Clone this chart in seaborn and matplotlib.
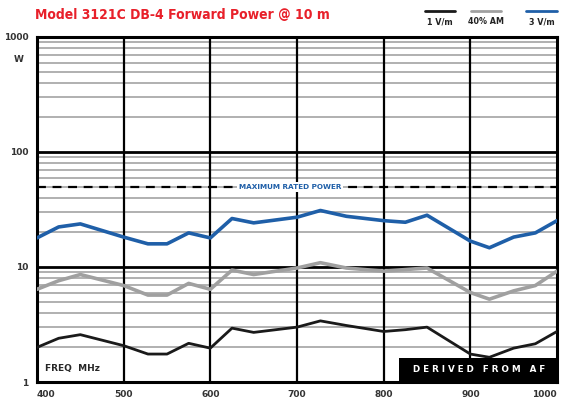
import numpy as np
import pandas as pd
import seaborn as sns
import matplotlib.pyplot as plt
from matplotlib.patches import Rectangle

# data (freq in MHz, forward power in W)
freq = [400, 425, 450, 500, 528, 550, 575, 600, 625, 650, 700,
        727, 757, 800, 825, 850, 900, 922, 950, 975, 1000]
power_1vm = [2.0, 2.4, 2.58, 2.07, 1.75, 1.75, 2.17, 1.97, 2.94, 2.7, 3.0,
             3.4, 3.1, 2.75, 2.85, 3.0, 1.75, 1.64, 1.97, 2.15, 2.75]
power_am = [6.4, 7.6, 8.6, 6.9, 5.7, 5.7, 7.2, 6.4, 9.4, 8.6, 9.8,
            10.9, 9.8, 9.2, 9.5, 9.8, 6.0, 5.25, 6.2, 6.9, 9.2]
power_3vm = [17.9, 22.3, 23.7, 18.2, 15.9, 15.9, 19.8, 17.9, 26.4, 24.2, 27.1,
             31.0, 27.6, 25.3, 24.5, 28.2, 16.8, 14.7, 18.2, 19.8, 25.3]
series_names = ["1 V/m", "40% AM", "3 V/m"]
series_colors = ["#1a1a1a", "#a0a0a0", "#1f5fa8"]
max_rated = 50
x_ticks = [400, 500, 600, 700, 800, 900, 1000]
y_ticks = [1, 10, 100, 1000]
y_tick_labels = ["1", "10", "100", "1000"]

df = pd.DataFrame({
    "freq": freq * 3,
    "power": power_1vm + power_am + power_3vm,
    "series": [s for s in series_names for _ in freq],
})

sns.set_style("white")
plt.rcParams["font.family"] = ["DejaVu Sans"]

fig = plt.figure(figsize=(5.64, 4.0), dpi=100)
ax = fig.add_axes([0.0656, 0.045, 0.922, 0.8625])

ax.set_yscale("log")
ax.set_xlim(400, 1000)
ax.set_ylim(1, 1000)

# grid: grey minor horizontals, black decade lines, black verticals
for dec in [1, 10, 100]:
    for m in range(2, 10):
        ax.axhline(dec * m, color="#b0b0b0", lw=1.4, zorder=1)
for d in [10, 100]:
    ax.axhline(d, color="black", lw=2.0, zorder=2)
for xv in x_ticks[1:-1]:
    ax.axvline(xv, color="black", lw=1.6, zorder=2)

sns.lineplot(data=df, x="freq", y="power", hue="series",
             palette=dict(zip(series_names, series_colors)),
             linewidth=2.3, legend=False, ax=ax, zorder=4)
for line, lw in zip(ax.get_lines()[-3:], [2.0, 2.6, 2.6]):
    line.set_linewidth(lw)

# maximum rated power
ax.axhline(max_rated, color="black", lw=1.6, ls=(0, (4, 3)), zorder=3)
ax.text(692, max_rated, "MAXIMUM RATED POWER", color="#1f5fa8", fontsize=5.2,
        fontweight="bold", ha="center", va="center", zorder=5,
        bbox=dict(facecolor="white", edgecolor="none", pad=1.5))

for sp in ax.spines.values():
    sp.set_linewidth(2.2)
    sp.set_color("black")

ax.set_xticks(x_ticks)
ax.set_xticklabels([str(v) for v in x_ticks], fontsize=6.5, fontweight="bold",
                   color="#333333")
ax.get_xticklabels()[-1].set_horizontalalignment("right")
ax.get_xticklabels()[0].set_horizontalalignment("left")
ax.set_yticks(y_ticks)
ax.set_yticklabels(y_tick_labels, fontsize=6.5, fontweight="bold", color="#333333")
ax.yaxis.set_minor_locator(plt.NullLocator())
ax.tick_params(length=0, pad=6)
ax.set_xlabel("")
ax.set_ylabel("")
ax.text(-0.025, 0.935, "W", transform=ax.transAxes, fontsize=6.5,
        fontweight="bold", color="#333333", ha="right", va="center")

ax.text(0.015, 0.04, "FREQ  MHz", transform=ax.transAxes, fontsize=6.5,
        fontweight="bold", ha="left", va="center", zorder=6)

ax.add_patch(Rectangle((0.697, 0.0), 0.303, 0.07, transform=ax.transAxes,
                       facecolor="black", edgecolor="none", zorder=6))
ax.text(0.85, 0.035, "D E R I V E D   F R O M   A F", transform=ax.transAxes,
        fontsize=6.3, fontweight="bold", color="white", ha="center",
        va="center", zorder=7)

fig.text(0.062, 0.962, "Model 3121C DB-4 Forward Power @ 10 m", color="#e8202a",
         fontsize=10, fontweight="bold", fontstretch="condensed",
         ha="left", va="center")

# legend drawn above the plot area
legend_x = [0.78, 0.862, 0.96]
for x0, name, col in zip(legend_x, series_names, series_colors):
    fig.add_artist(plt.Line2D([x0 - 0.027, x0 + 0.027], [0.972, 0.972],
                              color=col, lw=2.0, transform=fig.transFigure))
    fig.text(x0, 0.945, name, fontsize=5.8, fontweight="bold", ha="center",
             va="center", color="#222222")

fig.savefig("out.png", dpi=100)
